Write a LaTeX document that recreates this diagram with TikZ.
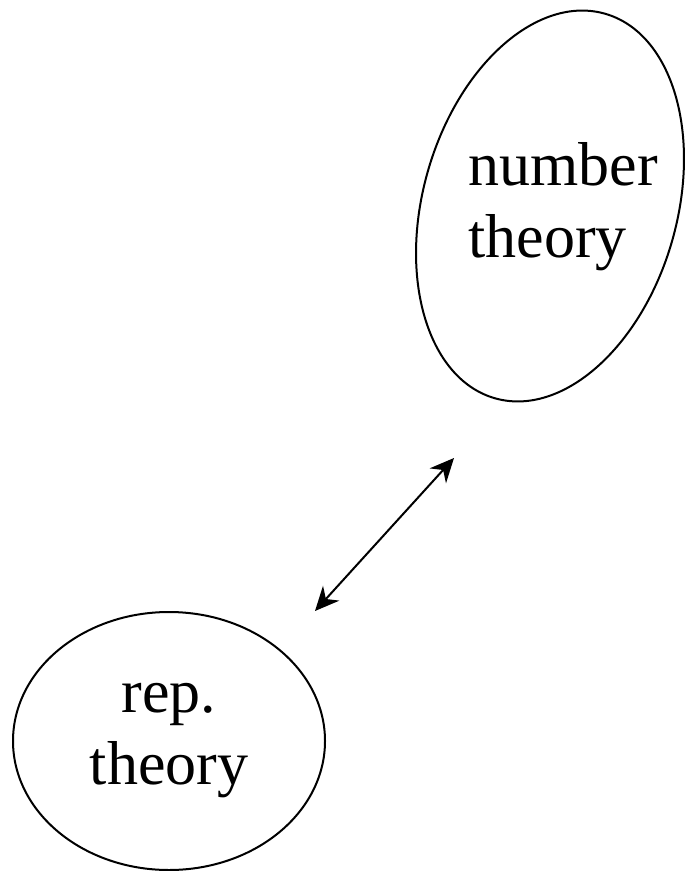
\documentclass[tikz,border=0pt]{standalone}
\usepackage{fontspec}
\setmainfont{Liberation Serif}
\usepackage{tikz}
\usetikzlibrary{arrows.meta, shapes.geometric, positioning}

\begin{document}
\begin{tikzpicture}[x=0.5pt, y=-0.5pt, >={Stealth[length=12pt, width=11pt]},
    line width=1pt, font=\fontsize{31}{36}\selectfont]
        \useasboundingbox (0,0) rectangle (686,871);
        \node[draw, ellipse, inner sep=0pt, minimum width=127pt, minimum height=200pt, rotate=-16]
              (ntring) at (550,206) {};
        \node[align=left] (nt) at (563,207) {number\\theory};
        \node[draw, ellipse, inner sep=0pt, minimum width=156pt, minimum height=129pt, align=center]
              (rt) at (169,741) {rep.\\theory};
        \coordinate (top) at (454,458);
        \coordinate (bot) at (315,611);
        \draw[<->] (bot) -- (top);
      \end{tikzpicture}
\end{document}
